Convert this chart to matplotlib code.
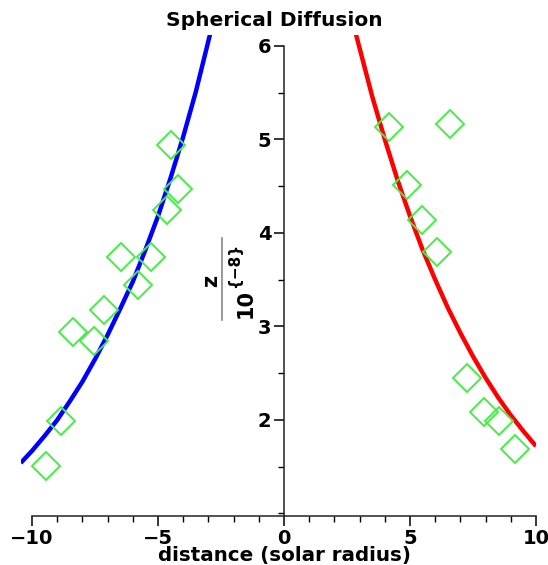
"""Spherical diffusion: fitted profiles on both sides of the sun with observations."""
import numpy as np
import matplotlib
matplotlib.use("Agg")
import matplotlib.pyplot as plt
from matplotlib.lines import Line2D

# left (blue) profile
left_x = [-10.45, -10.0, -9.5, -9.0, -8.5, -8.0, -7.5, -7.0, -6.5, -6.0,
          -5.5, -5.0, -4.5, -4.0, -3.5, -2.94, -2.8]
left_z = [1.54, 1.67, 1.83, 2.00, 2.20, 2.41, 2.65, 2.91, 3.19, 3.48,
          3.82, 4.18, 4.59, 5.03, 5.51, 6.12, 6.28]

# right (red) profile
right_x = [2.7, 2.85, 3.5, 4.0, 4.5, 5.0, 5.5, 6.0, 6.5, 7.0, 7.5, 8.0,
           8.5, 9.0, 9.5, 10.0]
right_z = [6.30, 6.13, 5.46, 5.00, 4.57, 4.18, 3.82, 3.50, 3.20, 2.93,
           2.68, 2.45, 2.24, 2.05, 1.88, 1.72]

# observations (green diamonds)
obs_x = [-9.44, -8.85, -8.36, -7.54, -7.14, -6.47, -5.78, -5.29, -4.64,
         -4.19, -4.48,
         4.15, 6.57, 4.87, 5.47, 6.09, 7.25, 7.94, 8.55, 9.18]
obs_z = [1.51, 1.99, 2.94, 2.84, 3.18, 3.74, 3.44, 3.74, 4.25,
         4.47, 4.94,
         5.13, 5.17, 4.51, 4.14, 3.80, 2.45, 2.08, 1.99, 1.69]

x_major = [-10, -5, 0, 5, 10]
y_major = [2, 3, 4, 5, 6]

W, H = 548, 565
fig = plt.figure(figsize=(W / 100, H / 100), dpi=100)
x0, x1 = -10.45, 10.0
y0, y1 = 0.973, 6.117
ax = fig.add_axes([20.7 / W, (H - 516) / H, 515.3 / W, 481 / H])
ax.set_xlim(x0, x1)
ax.set_ylim(y0, y1)

ax.plot(left_x, left_z, color="#0000ff", lw=3.2, solid_capstyle="butt")
ax.plot(right_x, right_z, color="#ff0000", lw=3.2, solid_capstyle="butt")
ax.plot(obs_x, obs_z, "D", ms=14, mfc="none", mec="#44ee44", mew=1.4,
        linestyle="none")

for s in ("top", "right"):
    ax.spines[s].set_visible(False)
ax.spines["left"].set_position(("data", 0))
ax.spines["left"].set_bounds(y0, 6)
ax.spines["bottom"].set_bounds(-10, 10)
for s in ("left", "bottom"):
    ax.spines[s].set_linewidth(1.1)
    ax.spines[s].set_color("#222222")

ax.set_xticks(x_major)
ax.set_xticklabels(["\u221210", "\u22125", "0", "5", "10"])
ax.set_xticks(np.arange(-10, 11, 1), minor=True)
ax.set_yticks(y_major)
ax.set_yticks(np.arange(1, 6, 0.5), minor=True)
ax.tick_params(which="major", length=7, width=1.1, labelsize=14, pad=2)
ax.tick_params(which="minor", length=4, width=1.0)
for lab in ax.get_xticklabels() + ax.get_yticklabels():
    lab.set_fontweight("bold")

ax.set_xlabel("distance (solar radius)", fontsize=14.3, fontweight="bold")
ax.xaxis.set_label_coords((0 - x0) / (x1 - x0), -0.062)

fig.text(0.5, 1 - 20 / H, "Spherical Diffusion", ha="center", va="center",
         fontsize=14.5, fontweight="bold")

# rotated fraction label  z / 10^{-8}
fig.text(211 / W, 1 - 281 / H, "z", rotation=90, ha="center", va="center",
         fontsize=15, fontweight="bold")
fig.text(246 / W, 1 - 303 / H, "10", rotation=90, ha="center", va="center",
         fontsize=15, fontweight="bold")
fig.text(235 / W, 1 - 265 / H, "{\u22128}", rotation=90, ha="center",
         va="center", fontsize=11, fontweight="bold")
fig.add_artist(Line2D([222 / W, 222 / W], [1 - 238 / H, 1 - 320 / H],
                      transform=fig.transFigure, color="#888888", lw=1.2))

fig.savefig("out.png", dpi=100)
